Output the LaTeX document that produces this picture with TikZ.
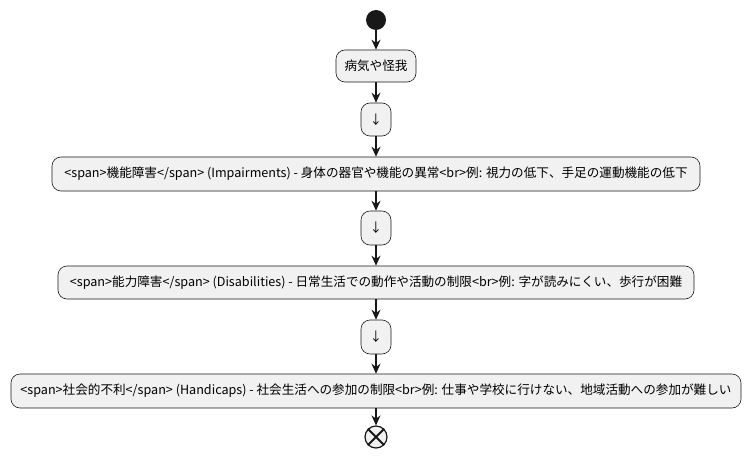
\documentclass[tikz,border=0pt]{standalone}
\usepackage{fontspec}
\setmainfont{Noto Sans CJK JP}
\usetikzlibrary{arrows.meta}
\definecolor{bx}{HTML}{F1F1F1}
\definecolor{ln}{HTML}{181818}
\begin{document}
\begin{tikzpicture}[x=1pt,y=-1pt,
  act/.style={draw=ln,fill=bx,rounded corners=9pt,line width=0.6pt,inner sep=0pt,font=\fontsize{12.6}{14}\selectfont,text=black},
  con/.style={draw=ln,line width=1.2pt,-{Stealth[length=10pt,width=9pt]}}]
\useasboundingbox (0,0) rectangle (751,457);
\node[circle,fill=ln,minimum size=20pt,inner sep=0pt] (s) at (376,20) {};
\node[act,minimum width=80pt,minimum height=32pt] (a) at (376,66) {病気や怪我};
\node[act,minimum width=30pt,minimum height=33pt] (d1) at (376,119.5) {↓};
\node[act,minimum width=648pt,minimum height=34pt] (b) at (376,174) {<span>機能障害</span> (Impairments) - 身体の器官や機能の異常<br>例: 視力の低下、手足の運動機能の低下};
\node[act,minimum width=30pt,minimum height=34pt] (d2) at (376,228) {↓};
\node[act,minimum width=636pt,minimum height=33pt] (c) at (376,282.5) {<span>能力障害</span> (Disabilities) - 日常生活での動作や活動の制限<br>例: 字が読みにくい、歩行が困難};
\node[act,minimum width=30pt,minimum height=34pt] (d3) at (376,337) {↓};
\node[act,minimum width=730pt,minimum height=34pt] (e) at (376,391) {<span>社会的不利</span> (Handicaps) - 社会生活への参加の制限<br>例: 仕事や学校に行けない、地域活動への参加が難しい};
\node[circle,draw=ln,line width=1.2pt,fill=bx,minimum size=22pt,inner sep=0pt] (f) at (376,437) {};
\draw[ln,line width=1.8pt] (f.45) -- (f.225) (f.135) -- (f.315);
\draw[con] (s) -- (a);
\draw[con] (a) -- (d1);
\draw[con] (d1) -- (b);
\draw[con] (b) -- (d2);
\draw[con] (d2) -- (c);
\draw[con] (c) -- (d3);
\draw[con] (d3) -- (e);
\draw[con] (e) -- (f);
\end{tikzpicture}
\end{document}
